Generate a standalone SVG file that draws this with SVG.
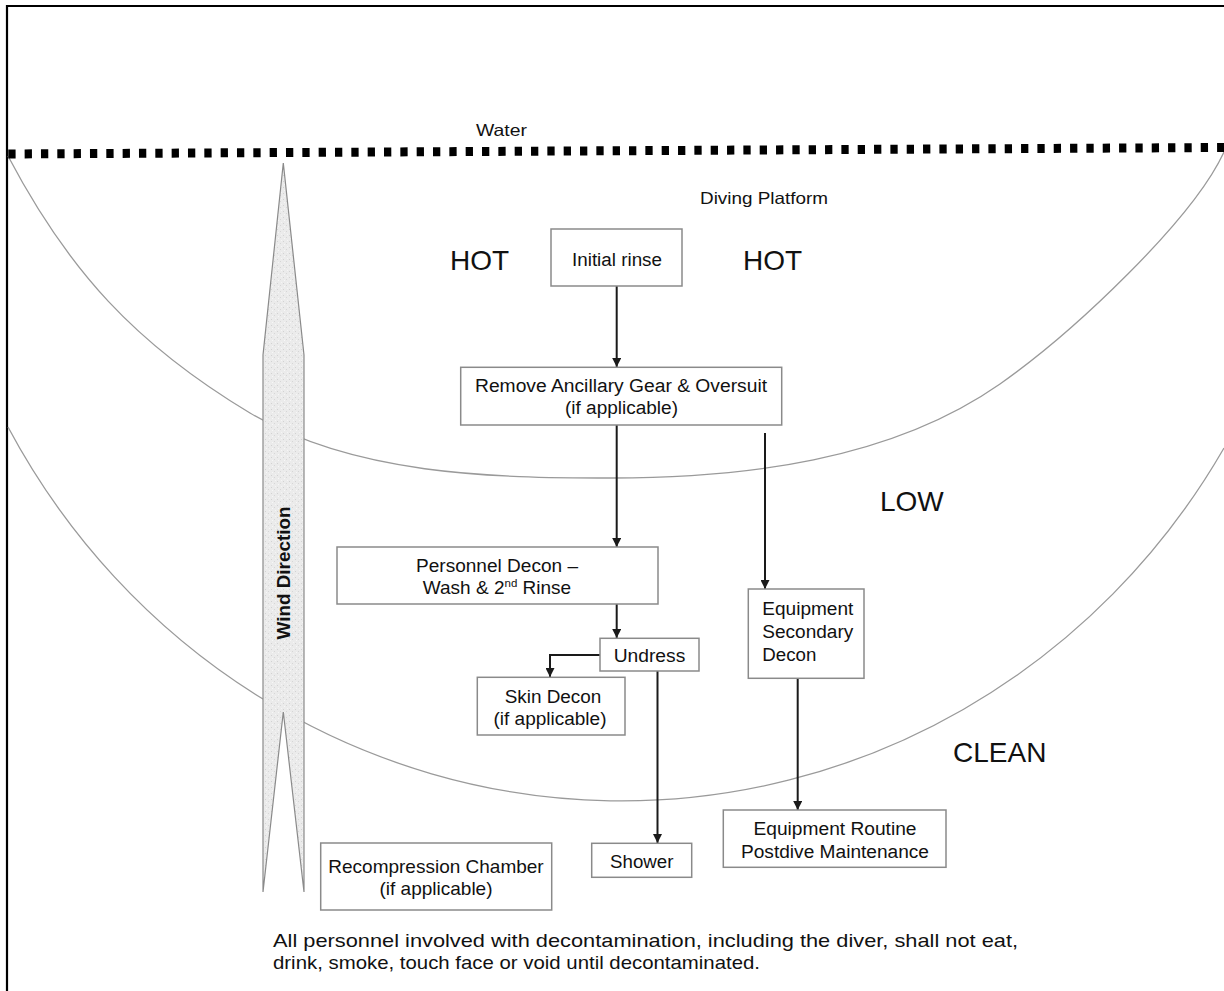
<svg xmlns="http://www.w3.org/2000/svg" width="1224" height="991" viewBox="0 0 1224 991">
<defs>
<style>
.box{fill:#fff;stroke:#8a8a8a;stroke-width:1.5}
.t{font-family:"Liberation Sans",Arial,sans-serif;font-size:18px;fill:#111}
.c{text-anchor:middle}
.zone{font-family:"Liberation Sans",Arial,sans-serif;font-size:28px;fill:#111}
.arc{fill:none;stroke:#9a9a9a;stroke-width:1.3}
.conn{fill:none;stroke:#1a1a1a;stroke-width:2}
</style>
<marker id="ah" viewBox="0 0 10 10" refX="10" refY="5" markerWidth="9" markerHeight="9" markerUnits="userSpaceOnUse" orient="auto">
<path d="M0,0 L10,5 L0,10 z" fill="#1a1a1a"/>
</marker>
<pattern id="speck" width="6" height="6" patternUnits="userSpaceOnUse">
<rect width="6" height="6" fill="#ebebeb"/>
<rect x="1" y="1" width="1" height="1" fill="#d2d2d2"/>
<rect x="4" y="3" width="1" height="1" fill="#d6d6d6"/>
<rect x="2" y="4" width="1" height="1" fill="#f7f7f7"/>
<rect x="5" y="0" width="1" height="1" fill="#f5f5f5"/>
</pattern>
</defs>
<rect width="1224" height="991" fill="#fff"/>
<g id="frame">
<path d="M7,991 L7,6 L1224,6" fill="none" stroke="#000" stroke-width="2.2"/>
</g>
<g id="zones">
<path class="arc" d="M8,156 C68,270 135,344 250,413 C353,475 492,478 612,478 C742,478 890,461 1000,384 C1074,332 1193,219.5 1224,152"/>
<path class="arc" d="M8,427 A700,720 0 0 0 1224,448"/>
<line x1="8.3" y1="154" x2="1224" y2="147.5" stroke="#000" stroke-width="9" stroke-dasharray="7.3 9.035"/>
<text class="t c" x="501.5" y="136" style="font-size:16.5px" textLength="51" lengthAdjust="spacingAndGlyphs">Water</text>
<text class="t c" x="764" y="204" style="font-size:16.5px" textLength="128" lengthAdjust="spacingAndGlyphs">Diving Platform</text>
<text class="zone" x="450" y="270">HOT</text>
<text class="zone" x="743" y="270">HOT</text>
<text class="zone" x="880" y="511">LOW</text>
<text class="zone" x="953" y="762">CLEAN</text>
</g>
<g id="wind">
<polygon points="283.3,163 304,355 304,892 283.3,712 263,892 263,355" fill="url(#speck)" stroke="#8a8a8a" stroke-width="1.2"/>
<text class="t c" transform="translate(289.5,573) rotate(-90)" style="font-weight:bold;font-size:17.5px" textLength="133" lengthAdjust="spacingAndGlyphs">Wind Direction</text>
</g>
<g id="connectors">
<line class="conn" x1="616.7" y1="286" x2="616.7" y2="367" marker-end="url(#ah)"/>
<line class="conn" x1="616.7" y1="425" x2="616.7" y2="547" marker-end="url(#ah)"/>
<line class="conn" x1="765" y1="433" x2="765" y2="589" marker-end="url(#ah)"/>
<line class="conn" x1="616.7" y1="604" x2="616.7" y2="638" marker-end="url(#ah)"/>
<polyline class="conn" points="600,655 550,655 550,677" marker-end="url(#ah)"/>
<line class="conn" x1="657.5" y1="671" x2="657.5" y2="843" marker-end="url(#ah)"/>
<line class="conn" x1="797.7" y1="678" x2="797.7" y2="810" marker-end="url(#ah)"/>
</g>
<g id="initial-rinse">
<rect class="box" x="551" y="229" width="131" height="57"/>
<text class="t c" x="617" y="266" textLength="90" lengthAdjust="spacingAndGlyphs">Initial rinse</text>
</g>
<g id="remove-gear">
<rect class="box" x="460.7" y="367.3" width="321" height="57.7"/>
<text class="t c" x="621" y="392" textLength="292" lengthAdjust="spacingAndGlyphs">Remove Ancillary Gear &amp; Oversuit</text>
<text class="t c" x="621.5" y="414" textLength="113" lengthAdjust="spacingAndGlyphs">(if applicable)</text>
</g>
<g id="personnel-decon">
<rect class="box" x="337" y="547" width="321" height="57"/>
<text class="t c" x="497" y="572" textLength="162" lengthAdjust="spacingAndGlyphs">Personnel Decon –</text>
<text class="t c" x="497" y="594" style="font-size:19px">Wash &amp; 2<tspan dy="-7" style="font-size:11.5px">nd</tspan><tspan dy="7"> Rinse</tspan></text>
</g>
<g id="undress">
<rect class="box" x="600" y="638.3" width="99" height="32.7"/>
<text class="t c" x="649.5" y="662" textLength="71.7" lengthAdjust="spacingAndGlyphs">Undress</text>
</g>
<g id="skin-decon">
<rect class="box" x="477.3" y="677.3" width="147.7" height="57.7"/>
<text class="t c" x="553" y="703" textLength="96.7" lengthAdjust="spacingAndGlyphs">Skin Decon</text>
<text class="t c" x="550" y="725" textLength="113" lengthAdjust="spacingAndGlyphs">(if applicable)</text>
</g>
<g id="equipment-secondary">
<rect class="box" x="748.3" y="589" width="115.7" height="89.3"/>
<text class="t" x="762.3" y="615" textLength="91" lengthAdjust="spacingAndGlyphs">Equipment</text>
<text class="t" x="762.3" y="638" textLength="91" lengthAdjust="spacingAndGlyphs">Secondary</text>
<text class="t" x="762.3" y="661" textLength="54" lengthAdjust="spacingAndGlyphs">Decon</text>
</g>
<g id="shower">
<rect class="box" x="591.7" y="843.3" width="100" height="34"/>
<text class="t c" x="641.7" y="868" textLength="63.3" lengthAdjust="spacingAndGlyphs">Shower</text>
</g>
<g id="equipment-routine">
<rect class="box" x="723.3" y="810" width="222.7" height="57.3"/>
<text class="t c" x="835" y="835" textLength="163" lengthAdjust="spacingAndGlyphs">Equipment Routine</text>
<text class="t c" x="835" y="858" textLength="188" lengthAdjust="spacingAndGlyphs">Postdive Maintenance</text>
</g>
<g id="recompression">
<rect class="box" x="320.7" y="843" width="231" height="67"/>
<text class="t c" x="436" y="873" style="font-size:19px">Recompression Chamber</text>
<text class="t c" x="436" y="895" style="font-size:19px">(if applicable)</text>
</g>
<g id="note">
<text class="t" x="273" y="947" style="font-size:19px" textLength="745" lengthAdjust="spacingAndGlyphs">All personnel involved with decontamination, including the diver, shall not eat,</text>
<text class="t" x="273" y="969" style="font-size:19px" textLength="487" lengthAdjust="spacingAndGlyphs">drink, smoke, touch face or void until decontaminated.</text>
</g>
</svg>
